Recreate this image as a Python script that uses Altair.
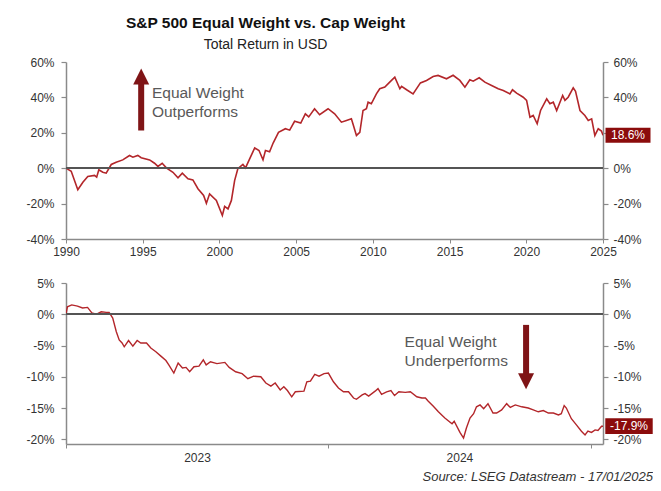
import altair as alt
import pandas as pd

# ---------------- data ----------------
# Top panel: relative total return, S&P 500 equal weight vs cap weight (%), since 1990
top_year = [1990.0, 1990.34, 1990.77, 1991.1, 1991.42, 1991.86, 1992.0, 1992.14, 1992.4, 1992.62,
            1992.95, 1993.27, 1993.7, 1994.14, 1994.36, 1994.68, 1994.9, 1995.45, 1995.77, 1995.99,
            1996.27, 1996.54, 1996.97, 1997.3, 1997.58, 1997.95, 1998.27, 1998.6, 1998.97, 1999.15,
            1999.36, 1999.8, 2000.19, 2000.34, 2000.56, 2000.78, 2000.99, 2001.2, 2001.53, 2001.7,
            2001.97, 2002.3, 2002.58, 2002.84, 2003.0, 2003.27, 2003.5, 2003.85, 2004.3, 2004.58,
            2004.9, 2005.3, 2005.6, 2005.82, 2006.2, 2006.53, 2007.08, 2007.51, 2007.95, 2008.28,
            2008.6, 2008.7, 2008.93, 2009.15, 2009.36, 2009.58, 2009.69, 2009.9, 2010.23, 2010.45,
            2010.78, 2011.1, 2011.43, 2011.76, 2011.87, 2012.2, 2012.62, 2013.1, 2013.5, 2013.93,
            2014.25, 2014.8, 2015.23, 2015.67, 2016.0, 2016.32, 2016.54, 2016.93, 2017.3, 2017.74,
            2018.17, 2018.5, 2018.93, 2019.1, 2019.37, 2019.8, 2020.02, 2020.24, 2020.45, 2020.71,
            2020.93, 2021.33, 2021.54, 2021.76, 2021.98, 2022.37, 2022.52, 2022.73, 2023.06, 2023.21,
            2023.5, 2023.82, 2024.04, 2024.26, 2024.47, 2024.69, 2024.9, 2025.0]
top_value = [0.0, -1.7, -12.2, -7.9, -4.7, -4.1, -5.1, -0.9, -2.3, -2.8,
             2.1, 3.4, 4.7, 7.2, 6.2, 7.2, 5.9, 4.7, 2.8, 1.0,
             2.8, 0.2, -2.3, -5.4, -2.8, -6.0, -6.6, -11.6, -15.4, -19.8,
             -14.5, -18.2, -26.7, -21.6, -23.0, -18.2, -7.0, -0.3, 2.1, 0.2,
             5.3, 11.5, 10.0, 4.7, 10.0, 9.3, 14.2, 20.3, 22.3, 21.5,
             26.5, 25.5, 30.7, 29.0, 33.6, 30.2, 33.6, 30.7, 26.0, 27.0,
             27.9, 25.1, 18.5, 20.3, 32.6, 33.6, 37.3, 36.4, 42.0, 44.9,
             45.8, 48.6, 51.4, 44.9, 46.2, 44.3, 42.0, 48.2, 49.6, 51.8,
             52.4, 50.5, 52.5, 49.6, 45.8, 50.0, 49.2, 51.1, 48.6, 46.7,
             44.9, 43.9, 42.0, 44.3, 42.4, 40.1, 38.3, 28.8, 29.8, 25.1,
             32.6, 39.2, 36.4, 37.3, 32.6, 41.1, 38.3, 40.1, 45.4, 43.5,
             32.6, 29.8, 27.0, 27.9, 18.5, 22.3, 21.0, 18.6]

# Bottom panel: same ratio since start of 2023 (%); days counted from 2023-01-01
bottom_start = "2023-01-01"
bottom_day = [0, 2, 8, 16, 23, 30, 36, 42, 49, 56,
              60, 65, 70, 74, 78, 81, 87, 93, 99, 104,
              112, 118, 125, 132, 139, 143, 150, 156, 162, 167,
              172, 178, 185, 191, 195, 201, 210, 221, 227, 236,
              245, 253, 261, 271, 278, 285, 291, 298, 303, 308,
              314, 319, 331, 335, 340, 346, 352, 359, 365, 372,
              379, 386, 393, 400, 404, 412, 416, 421, 430, 434,
              439, 446, 452, 457, 463, 472, 479, 488, 495, 500,
              504, 511, 518, 527, 537, 540, 548, 553, 557, 562,
              567, 571, 576, 581, 587, 594, 599, 606, 613, 618,
              625, 634, 643, 650, 657, 664, 671, 678, 685, 689,
              693, 696, 703, 710, 717, 722, 726, 731, 736, 740,
              745, 747]
bottom_value = [0.0, 1.2, 1.5, 1.3, 1.0, 1.1, 0.2, 0.0, 0.4, 0.3,
                0.3, -0.6, -2.8, -4.1, -4.6, -5.2, -4.2, -5.1, -4.2, -4.6,
                -4.6, -5.4, -6.0, -6.7, -7.4, -8.1, -9.4, -7.8, -8.6, -8.5,
                -9.2, -8.4, -8.3, -7.3, -8.1, -7.6, -7.9, -7.7, -8.5, -9.2,
                -9.5, -10.3, -9.9, -10.0, -11.0, -11.5, -11.0, -12.1, -11.6, -12.2,
                -13.2, -12.4, -12.3, -10.8, -10.7, -9.6, -9.9, -9.5, -9.4, -10.8,
                -11.8, -12.4, -12.4, -13.4, -13.6, -12.9, -12.7, -13.1, -12.3, -11.9,
                -12.8, -12.4, -12.2, -13.0, -12.4, -12.5, -12.4, -13.2, -13.4, -13.4,
                -13.9, -14.7, -15.6, -16.6, -17.5, -17.1, -18.9, -19.8, -18.2, -16.6,
                -15.9, -14.8, -14.5, -15.1, -14.3, -15.8, -15.8, -15.3, -14.3, -14.9,
                -14.5, -14.8, -15.0, -15.3, -15.6, -15.4, -15.8, -15.8, -16.1, -15.9,
                -14.6, -15.0, -16.7, -17.7, -18.7, -19.3, -18.7, -18.9, -18.5, -18.6,
                -17.9, -17.9]

top_x_ticks = [1990, 1995, 2000, 2005, 2010, 2015, 2020, 2025]
top_y_ticks = [-40, -20, 0, 20, 40, 60]
bottom_y_ticks = [-20, -15, -10, -5, 0, 5]
top_last_label = "18.6%"
bottom_last_label = "-17.9%"

# annotations (data coordinates)
up_arrow = {"x": 1994.9, "y": 21.3, "y2": 48.0, "tip": 51.8}
up_text_x = [1995.6, 1995.6]
up_text_y = [42.4, 31.5]
up_text = ["Equal Weight", "Outperforms"]
down_arrow = {"date": "2024-10-02T00:00:00", "y": -1.7, "y2": -10.2, "tip": -10.7}
down_text_date = ["2024-04-16T00:00:00", "2024-04-16T00:00:00"]
down_text_y = [-4.4, -7.5]
down_text = ["Equal Weight", "Underperforms"]
source_text = "Source: LSEG Datastream - 17/01/2025"

# ---------------- styles ----------------
LINE = "#b3262a"
DARK = "#7f1416"
BOX = "#8b0c0c"
AXIS = "#8a8a8a"
LABEL = "#333333"
ANNO = "#595959"
FONT = "Liberation Sans"
W = 537
H_TOP = 177
H_BOT = 161

top_df = pd.DataFrame({"year": top_year, "v": top_value})
bot_df = pd.DataFrame({
    "date": (pd.Timestamp(bottom_start) + pd.to_timedelta(bottom_day, unit="D")).strftime("%Y-%m-%dT%H:%M:%S"),
    "v": bottom_value,
})


def yaxis(orient, ticks):
    return alt.Axis(
        orient=orient, values=ticks, labelExpr="datum.value + '%'", title=None, grid=False,
        tickSize=5, labelPadding=7 if orient == "left" else 5, domainColor=AXIS, tickColor=AXIS,
        domainWidth=1.5, tickWidth=1.2, labelColor=LABEL, labelFontSize=12, labelFont=FONT,
        minExtent=42, maxExtent=42,
    )


box_shape = "M-1.5,-0.5L1.5,-0.5L1.5,0.5L-1.5,0.5Z"
up_shape = "M0,-1L1,1L-1,1Z"
down_shape = "M0,1L1,-1L-1,-1Z"

# ---------------- top panel ----------------
yt = alt.Scale(domain=[-40, 60], nice=False, zero=False)
xt = alt.Scale(domain=[1990, 2025], nice=False, zero=False)
x_top_axis = alt.Axis(values=top_x_ticks, format="d", title=None, grid=False, tickSize=4,
                      labelPadding=3, domainColor=AXIS, tickColor=AXIS, domainWidth=1.5,
                      labelColor=LABEL, labelFontSize=12, labelFont=FONT, labelFlush=False,
                      minExtent=22, maxExtent=22)

top_line = alt.Chart(top_df).mark_line(color=LINE, strokeWidth=1.6, clip=True).encode(
    x=alt.X("year:Q", scale=xt, axis=x_top_axis),
    y=alt.Y("v:Q", scale=yt, axis=yaxis("left", top_y_ticks)),
)
top_zero = alt.Chart(top_df).mark_rule(color="#555555", strokeWidth=1.5).encode(
    y=alt.YDatum(0, axis=yaxis("right", top_y_ticks))
)
top_last = top_df.tail(1).assign(label=top_last_label)
top_box = alt.Chart(top_last).mark_point(shape=box_shape, size=900, filled=True, opacity=1, color=BOX).encode(
    x=alt.value(W + 25), y=alt.Y("v:Q", axis=None)
)
top_box_text = alt.Chart(top_last).mark_text(color="white", fontSize=12, font=FONT).encode(
    x=alt.value(W + 25), y=alt.Y("v:Q", axis=None), text="label:N"
)
up_df = pd.DataFrame([up_arrow])
up_shaft = alt.Chart(up_df).mark_rule(color=DARK, strokeWidth=6).encode(
    x="x:Q", y=alt.Y("y:Q", axis=None), y2="y2:Q"
)
up_head = alt.Chart(up_df).mark_point(shape=up_shape, size=256, filled=True, opacity=1, color=DARK).encode(
    x="x:Q", y=alt.Y("tip:Q", axis=None)
)
up_lbl = alt.Chart(pd.DataFrame({"x": up_text_x, "y": up_text_y, "t": up_text})).mark_text(
    align="left", baseline="middle", fontSize=15.5, color=ANNO, font=FONT
).encode(x="x:Q", y=alt.Y("y:Q", axis=None), text="t:N")

top = alt.layer(top_line, top_zero, up_shaft, up_head, up_lbl, top_box, top_box_text).resolve_axis(
    y="independent"
).properties(width=W, height=H_TOP)

# ---------------- bottom panel ----------------
yb = alt.Scale(domain=[-20.75, 5], nice=False, zero=False)
d0 = alt.DateTime(year=2023, month=1, date=1)
d1 = alt.DateTime(year=2025, month=1, date=17)
xb = alt.Scale(domain=[d0, d1])
x_bot_axis = alt.Axis(
    values=[d0, alt.DateTime(year=2024, month=1, date=1), alt.DateTime(year=2025, month=1, date=1)],
    labelExpr="year(datum.value) == 2025 ? '' : timeFormat(datum.value, '%Y')",
    labelOffset=131, title=None, grid=False, tickSize=4, labelPadding=4, domainColor=AXIS,
    tickColor=AXIS, domainWidth=1.5, labelColor=LABEL, labelFontSize=12, labelFont=FONT,
    labelFlush=False, labelBound=False, minExtent=22, maxExtent=22,
)
bot_line = alt.Chart(bot_df).mark_line(color=LINE, strokeWidth=1.4, clip=True).encode(
    x=alt.X("date:T", scale=xb, axis=x_bot_axis),
    y=alt.Y("v:Q", scale=yb, axis=yaxis("left", bottom_y_ticks)),
)
bot_zero = alt.Chart(bot_df).mark_rule(color="#555555", strokeWidth=1.5).encode(
    y=alt.YDatum(0, axis=yaxis("right", bottom_y_ticks))
)
bot_last = bot_df.tail(1).assign(label=bottom_last_label)
bot_box = alt.Chart(bot_last).mark_point(shape=box_shape, size=1000, filled=True, opacity=1, color=BOX).encode(
    x=alt.value(W + 26), y=alt.Y("v:Q", axis=None)
)
bot_box_text = alt.Chart(bot_last).mark_text(color="white", fontSize=12, font=FONT).encode(
    x=alt.value(W + 26), y=alt.Y("v:Q", axis=None), text="label:N"
)
down_df = pd.DataFrame([down_arrow])
down_shaft = alt.Chart(down_df).mark_rule(color=DARK, strokeWidth=6).encode(
    x="date:T", y=alt.Y("y:Q", axis=None), y2="y2:Q"
)
down_head = alt.Chart(down_df).mark_point(shape=down_shape, size=256, filled=True, opacity=1, color=DARK).encode(
    x="date:T", y=alt.Y("tip:Q", axis=None)
)
down_lbl = alt.Chart(pd.DataFrame({"date": down_text_date, "y": down_text_y, "t": down_text})).mark_text(
    align="left", baseline="middle", fontSize=15.5, color=ANNO, font=FONT
).encode(x="date:T", y=alt.Y("y:Q", axis=None), text="t:N")
src = alt.Chart(bot_last).mark_text(
    text=source_text, align="right", baseline="middle", fontStyle="italic", fontSize=13, color=LABEL, font=FONT
).encode(x=alt.value(W + 50), y=alt.value(H_BOT + 33))

bottom = alt.layer(bot_line, bot_zero, down_shaft, down_head, down_lbl, bot_box, bot_box_text, src).resolve_axis(
    y="independent"
).properties(width=W, height=H_BOT)

chart = alt.vconcat(
    top, bottom, spacing=44, bounds="flush",
    title=alt.TitleParams(
        text="S&P 500 Equal Weight vs. Cap Weight", subtitle="Total Return in USD",
        anchor="middle", fontSize=15.5, fontWeight="bold", font=FONT, color="#111111",
        subtitleFont=FONT, subtitleFontSize=14, subtitleColor="#222222", subtitlePadding=7,
        offset=4, dx=-73,
    ),
).properties(
    padding={"left": 16, "top": 7, "right": 0, "bottom": 0}
).configure(font=FONT).configure_view(stroke=None)

chart.save("out.html", embed_options={"renderer": "svg", "actions": False})
